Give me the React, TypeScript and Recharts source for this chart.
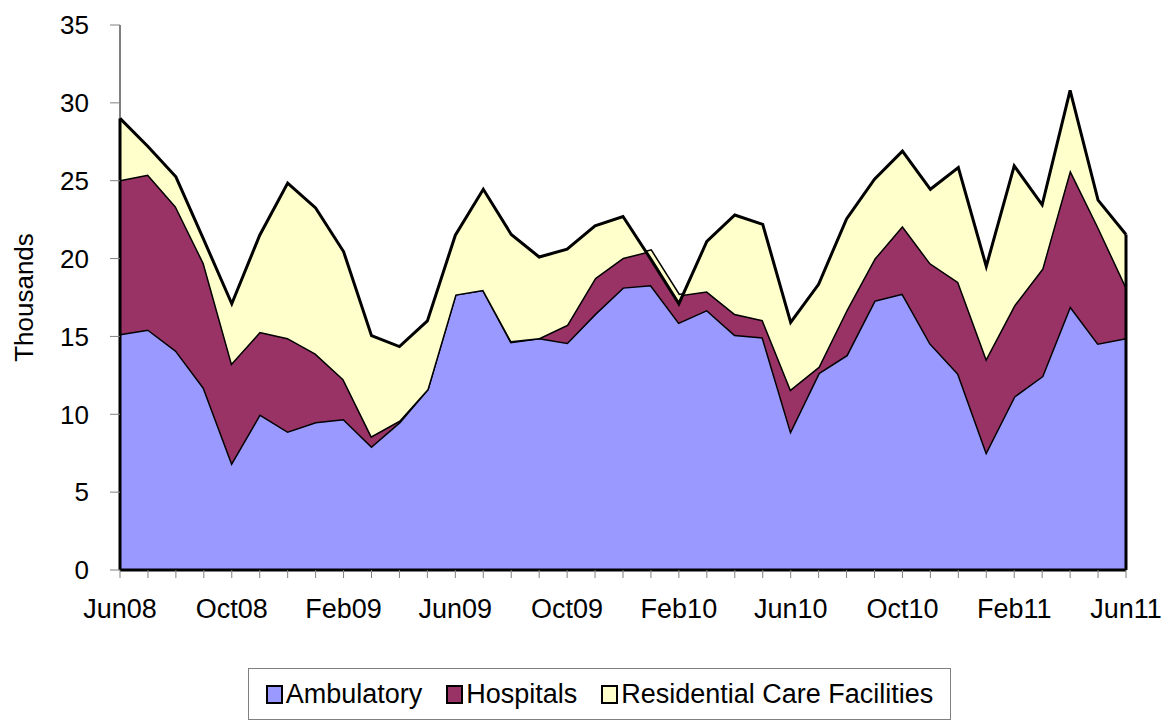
import React from 'react';
import { AreaChart, Area, XAxis, YAxis, ReferenceLine } from 'recharts';

const months = [
  'Jun08','Jul08','Aug08','Sep08','Oct08','Nov08','Dec08','Jan09','Feb09','Mar09','Apr09','May09',
  'Jun09','Jul09','Aug09','Sep09','Oct09','Nov09','Dec09','Jan10','Feb10','Mar10','Apr10','May10',
  'Jun10','Jul10','Aug10','Sep10','Oct10','Nov10','Dec10','Jan11','Feb11','Mar11','Apr11','May11','Jun11'
];

const ambulatory = [
  15.15, 15.45, 14.1, 11.7, 6.9, 10.0, 8.9, 9.5, 9.7, 7.95, 9.5, 11.6,
  17.7, 18.0, 14.65, 14.9, 14.6, 16.45, 18.15, 18.3, 15.9, 16.7, 15.1, 14.95,
  8.95, 12.65, 13.8, 17.3, 17.75, 14.55, 12.6, 7.6, 11.15, 12.45, 16.95, 14.55, 14.9
];

const hospitals = [
  9.9, 9.95, 9.25, 8.0, 6.4, 5.3, 6.0, 4.4, 2.55, 0.65, 0.1, 0.0,
  0.0, 0.0, 0.05, 0.0, 1.15, 2.3, 1.9, 2.2, 1.75, 1.2, 1.35, 1.1,
  2.65, 0.4, 2.9, 2.7, 4.35, 5.15, 5.9, 6.0, 5.85, 6.9, 8.75, 7.5, 3.3
];

const residential = [
  3.95, 1.8, 1.9, 1.5, 3.8, 6.2, 9.95, 9.35, 8.2, 6.45, 4.75, 4.4,
  3.8, 6.45, 6.85, 5.2, 4.85, 3.35, 2.65, -0.55, -0.55, 3.2, 6.35, 6.15,
  4.3, 5.3, 5.85, 5.1, 4.8, 4.75, 7.35, 5.9, 8.95, 4.1, 5.1, 1.7, 3.35
];

const yTicks = [0, 5, 10, 15, 20, 25, 30, 35];
const labeledMonths = ['Jun08','Oct08','Feb09','Jun09','Oct09','Feb10','Jun10','Oct10','Feb11','Jun11'];

const seriesNames = ['Ambulatory', 'Hospitals', 'Residential Care Facilities'];
const seriesKeys = ['amb', 'hosp', 'res'];
const seriesColors = ['#9999FF', '#993366', '#FFFFCC'];

const data = months.map((m, i) => ({
  month: m,
  amb: ambulatory[i],
  hosp: hospitals[i],
  res: residential[i],
}));

const firstTotal = ambulatory[0] + hospitals[0] + residential[0];
const lastIdx = months.length - 1;
const lastTotal = ambulatory[lastIdx] + hospitals[lastIdx] + residential[lastIdx];

const FONT = "'Liberation Sans', Arial, sans-serif";

const XTick = (props: any) => {
  const { x, y, payload } = props;
  if (!labeledMonths.includes(payload.value)) return null;
  return (
    <text x={x} y={y + 38} textAnchor="middle" fontFamily={FONT} fontSize={27} fill="#000">
      {payload.value}
    </text>
  );
};

export default function App() {
  return (
    <div style={{ position: 'absolute', left: 0, top: 0, width: 1164, height: 723, background: '#fff' }}>
      <AreaChart
        width={1164}
        height={723}
        data={data}
        margin={{ top: 25, right: 38, left: 0, bottom: 103 }}
      >
        <XAxis
          dataKey="month"
          interval={0}
          tick={<XTick />}
          tickSize={8}
          tickMargin={2}
          tickLine={{ stroke: '#808080', strokeWidth: 1 }}
          axisLine={{ stroke: '#000', strokeWidth: 3 }}
          height={50}
        />
        <YAxis
          width={120}
          domain={[0, 35]}
          ticks={yTicks}
          interval={0}
          tickSize={10}
          tickMargin={21}
          tickLine={{ stroke: '#808080', strokeWidth: 1 }}
          axisLine={{ stroke: '#000', strokeWidth: 1 }}
          tick={{ fill: '#000', fontSize: 26, fontFamily: FONT }}
          label={{
            value: 'Thousands',
            angle: -90,
            position: 'insideLeft',
            offset: 24,
            style: { textAnchor: 'middle', fontFamily: FONT, fontSize: 26, fill: '#000' },
          }}
        />
        {seriesKeys.map((k, i) => (
          <Area
            key={k}
            type="linear"
            dataKey={k}
            stackId="1"
            name={seriesNames[i]}
            fill={seriesColors[i]}
            fillOpacity={1}
            stroke="#000"
            strokeWidth={3}
            isAnimationActive={false}
            dot={false}
            activeDot={false}
          />
        ))}
        <ReferenceLine
          segment={[{ x: months[0], y: 0 }, { x: months[0], y: firstTotal }]}
          stroke="#000"
          strokeWidth={3}
        />
        <ReferenceLine
          segment={[{ x: months[lastIdx], y: 0 }, { x: months[lastIdx], y: lastTotal }]}
          stroke="#000"
          strokeWidth={3}
        />
      </AreaChart>
      <div
        style={{
          position: 'absolute',
          left: 248,
          top: 668,
          width: 703,
          height: 52,
          border: '1px solid #808080',
          boxSizing: 'border-box',
          display: 'flex',
          alignItems: 'center',
          justifyContent: 'center',
          fontFamily: FONT,
          fontSize: 27,
          color: '#000',
          whiteSpace: 'nowrap',
        }}
      >
        {seriesNames.map((n, i) => (
          <div key={n} style={{ display: 'flex', alignItems: 'center', marginRight: i < 2 ? 24 : 0 }}>
            <span
              style={{
                display: 'inline-block',
                width: 13,
                height: 15,
                background: seriesColors[i],
                border: '2px solid #000',
                marginRight: 3,
              }}
            />
            <span>{n}</span>
          </div>
        ))}
      </div>
    </div>
  );
}
